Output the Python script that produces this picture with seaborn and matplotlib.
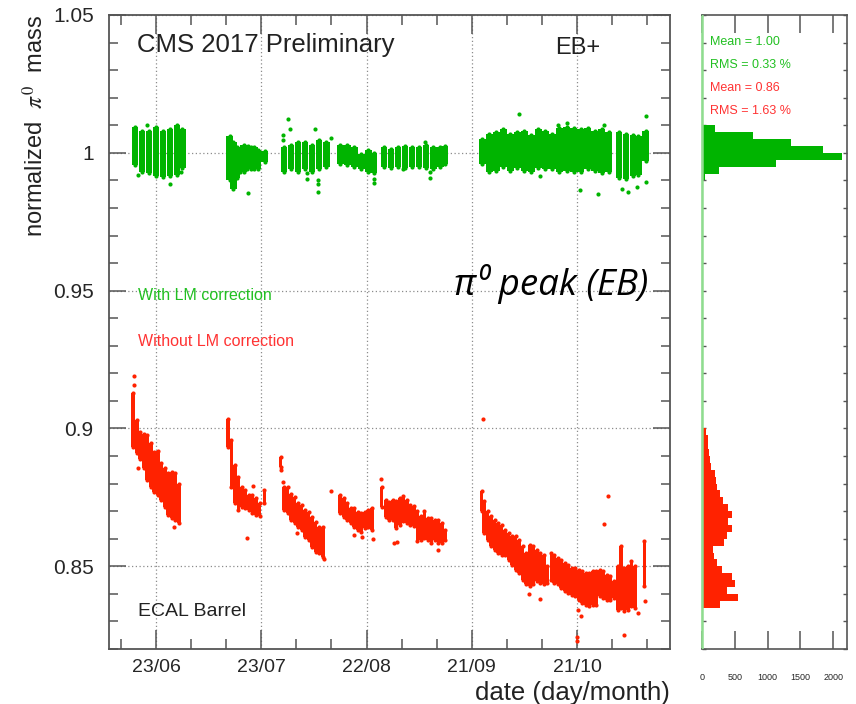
import datetime as dt
import numpy as np
import pandas as pd
import matplotlib
matplotlib.use("Agg")
import matplotlib.pyplot as plt
from matplotlib.ticker import MultipleLocator, FixedLocator, FuncFormatter, NullFormatter
import seaborn as sns

# ------------------------------------------------------------------
# pi0 peak position vs time, ECAL barrel (EB+), 2017.
# x values are day-of-year 2017; each reading is the spread (lo..hi)
# of the normalized peak position around that day.
# ------------------------------------------------------------------

# with laser-monitoring (LM) correction
green_day = [168, 170, 172, 174, 176, 178, 180, 181.5,
             195, 196, 197, 198, 199, 200, 201, 202, 203, 205,
             210.5, 212.5, 214.5, 216.5, 218.5, 220.5, 222.5,
             226.5, 228.5, 230.5, 232.5, 234.5, 236,
             239, 241, 243, 245, 247, 249, 251, 253, 255, 256.3,
             267, 269, 271, 273, 275, 277, 279, 281, 283, 285,
             287, 289, 291, 293, 295, 297, 299, 301, 303, 306, 308, 310, 311.5, 313.6]
green_hi = [1.0095, 1.0080, 1.0078, 1.0092, 1.0080, 1.0085, 1.0100, 1.0088,
            1.0060, 1.0040, 1.0020, 1.0010, 1.0030, 1.0010, 1.0020, 1.0020, 1.0010, 1.0005,
            1.0020, 1.0030, 1.0040, 1.0040, 1.0030, 1.0045, 1.0040,
            1.0030, 1.0030, 1.0020, 0.9995, 1.0010, 1.0000,
            1.0020, 1.0015, 1.0020, 1.0025, 1.0020, 1.0020, 1.0030, 1.0020, 1.0020, 1.0025,
            1.0050, 1.0070, 1.0075, 1.0085, 1.0070, 1.0075, 1.0080, 1.0065, 1.0085, 1.0080,
            1.0070, 1.0090, 1.0095, 1.0090, 1.0085, 1.0090, 1.0080, 1.0085, 1.0075, 1.0075,
            1.0070, 1.0065, 1.0060, 1.0080]
green_lo = [0.9955, 0.9930, 0.9925, 0.9915, 0.9913, 0.9915, 0.9920, 0.9945,
            0.9900, 0.9870, 0.9910, 0.9930, 0.9930, 0.9940, 0.9940, 0.9940, 0.9940, 0.9965,
            0.9930, 0.9940, 0.9930, 0.9940, 0.9930, 0.9940, 0.9950,
            0.9960, 0.9955, 0.9950, 0.9940, 0.9930, 0.9925,
            0.9950, 0.9945, 0.9950, 0.9945, 0.9950, 0.9950, 0.9945, 0.9940, 0.9950, 0.9960,
            0.9960, 0.9930, 0.9935, 0.9950, 0.9935, 0.9945, 0.9935, 0.9930, 0.9945, 0.9940,
            0.9940, 0.9930, 0.9935, 0.9930, 0.9930, 0.9940, 0.9935, 0.9925, 0.9930, 0.9910,
            0.9905, 0.9915, 0.9920, 0.9970]
green_out_day = [171.4, 168.9, 178.0, 181.2, 200.2, 200.2, 211.6, 212.3, 210.3, 210.3,
                 219.2, 223.9, 217.0, 217.0, 220.1, 220.1, 220.1, 236.0, 236.0, 250.7,
                 252.0, 252.0, 244.5, 277.4, 283.4, 288.5, 291.0, 301.8, 294.8, 300.0,
                 306.9, 308.6, 311.2, 313.6, 313.6]
green_out_val = [1.0100, 0.9919, 0.9888, 0.9931, 0.9855, 1.0025, 1.0122, 1.0088, 1.0064, 1.0046,
                 1.0086, 1.0052, 0.9925, 0.9905, 0.9900, 0.9888, 0.9859, 0.9905, 0.9892, 1.0040,
                 0.9930, 0.9910, 0.9943, 1.0141, 0.9917, 1.0100, 1.0107, 1.0100, 0.9866, 0.9851,
                 0.9870, 0.9859, 0.9877, 1.0133, 0.9895]

# without LM correction
red_day = [167.5, 168.5, 169.5, 170.5, 171.5, 172.5, 173.5, 174.5, 175.5, 176.5, 177.5, 178.5, 179.5, 180.5,
           194.5, 195.5, 196.5, 197.5, 198.5, 199.5, 200.5, 201.5, 202.5, 203.5, 204.9,
           209.5, 210.5, 211.5, 212.5, 213.5, 214.5, 215.5, 216.5, 217.5, 218.5, 219.5, 220.5, 221.5,
           226.5, 227.5, 228.5, 229.5, 230.5, 231.5, 232.5, 233.5, 234.5, 235.5,
           238.3, 239.5, 240.5, 241.5, 242.5, 243.5, 244.5, 245.5, 246.5, 247.5, 248.5, 249.5,
           250.5, 251.5, 252.5, 253.5, 254.5, 255.5, 256.5,
           266.8, 267.5, 268.5, 269.5, 270.5, 271.5, 272.5, 273.5, 274.5, 275.5, 276.5, 277.5,
           278.5, 279.5, 280.5, 281.5, 282.5, 283.5, 284.5, 285.5,
           286.7, 287.5, 288.5, 289.5, 290.5, 291.5, 292.5, 293.5, 294.5, 295.5, 296.5, 297.5,
           298.5, 299.5, 300.5, 301.5, 302.5, 303.5, 304.5,
           305.7, 306.5, 307.5, 308.5, 309.5, 310.5, 313.2]
red_hi = [0.9130, 0.9030, 0.8988, 0.8980, 0.8976, 0.8946, 0.8915, 0.8920, 0.8873, 0.8855, 0.8837, 0.8843, 0.8837, 0.8800,
          0.9036, 0.8958, 0.8867, 0.8825, 0.8789, 0.8777, 0.8758, 0.8758, 0.8746, 0.8728, 0.8777,
          0.8897, 0.8789, 0.8789, 0.8764, 0.8752, 0.8728, 0.8722, 0.8704, 0.8698, 0.8680, 0.8662, 0.8644, 0.8644,
          0.8758, 0.8746, 0.8728, 0.8710, 0.8710, 0.8698, 0.8692, 0.8698, 0.8704, 0.8710,
          0.8789, 0.8740, 0.8734, 0.8740, 0.8736, 0.8748, 0.8754, 0.8742, 0.8723, 0.8717, 0.8699, 0.8681,
          0.8699, 0.8675, 0.8675, 0.8669, 0.8669, 0.8657, 0.8633,
          0.8772, 0.8736, 0.8699, 0.8681, 0.8669, 0.8657, 0.8651, 0.8633, 0.8621, 0.8609, 0.8609, 0.8597,
          0.8572, 0.8548, 0.8578, 0.8572, 0.8560, 0.8548, 0.8542, 0.8500,
          0.8548, 0.8542, 0.8530, 0.8524, 0.8512, 0.8506, 0.8494, 0.8494, 0.8488, 0.8482, 0.8476, 0.8476,
          0.8482, 0.8482, 0.8488, 0.8482, 0.8470, 0.8464, 0.8446,
          0.8500, 0.8572, 0.8494, 0.8500, 0.8518, 0.8500, 0.8591]
red_lo = [0.8934, 0.8910, 0.8891, 0.8855, 0.8813, 0.8789, 0.8770, 0.8758, 0.8740, 0.8716, 0.8686, 0.8674, 0.8668, 0.8656,
          0.8934, 0.8789, 0.8728, 0.8704, 0.8716, 0.8710, 0.8704, 0.8692, 0.8686, 0.8682, 0.8728,
          0.8861, 0.8704, 0.8692, 0.8668, 0.8656, 0.8644, 0.8632, 0.8607, 0.8595, 0.8571, 0.8553, 0.8547, 0.8535,
          0.8692, 0.8680, 0.8668, 0.8656, 0.8644, 0.8632, 0.8626, 0.8638, 0.8644, 0.8632,
          0.8716, 0.8680, 0.8668, 0.8668, 0.8639, 0.8651, 0.8663, 0.8657, 0.8651, 0.8645, 0.8591, 0.8597,
          0.8603, 0.8597, 0.8585, 0.8597, 0.8585, 0.8585, 0.8597,
          0.8699, 0.8621, 0.8597, 0.8572, 0.8560, 0.8548, 0.8542, 0.8542, 0.8524, 0.8506, 0.8488, 0.8476,
          0.8452, 0.8434, 0.8428, 0.8434, 0.8446, 0.8440, 0.8434, 0.8440,
          0.8452, 0.8440, 0.8434, 0.8422, 0.8410, 0.8403, 0.8397, 0.8391, 0.8379, 0.8367, 0.8361, 0.8355,
          0.8361, 0.8361, 0.8391, 0.8385, 0.8379, 0.8379, 0.8385,
          0.8343, 0.8349, 0.8337, 0.8343, 0.8355, 0.8349, 0.8428]
red_out_day = [167.6, 167.6, 168.8, 179.2, 201.6, 199.9, 209.7, 210.1, 214.3, 221.9,
               223.8, 230.3, 232.7, 235.8, 238.2, 241.8, 242.6, 254.5, 267.2, 280.4,
               283.5, 294.2, 295.1, 294.0, 294.0, 301.8, 302.8, 307.3, 311.3, 313.4]
red_out_val = [0.9192, 0.9156, 0.8855, 0.8644, 0.8791, 0.8601, 0.8849, 0.8807, 0.8622, 0.8525,
               0.8773, 0.8614, 0.8607, 0.8598, 0.8815, 0.8586, 0.8587, 0.8560, 0.9033, 0.8401,
               0.8382, 0.8340, 0.8319, 0.8245, 0.8229, 0.8655, 0.8754, 0.8249, 0.8329, 0.8373]

# axis date labels (day/month, 2017)
date_labels = ["23/06", "23/07", "22/08", "21/09", "21/10"]

# projected histograms: entries per 0.0025-wide bin of the normalized mass
hist_bin_width = 0.0025
green_hist_start = 0.990
green_hist_counts = [46, 259, 1128, 2134, 1844, 1360, 780, 200]
red_hist_start = 0.835
red_hist_counts = [280, 550, 376, 503, 452, 300, 224, 188, 173, 340, 376, 452, 401,
                   462, 390, 325, 274, 229, 208, 198, 140, 119, 109, 97, 87, 60]
hist_ticks = [0, 500, 1000, 1500, 2000]

stats_green = ["Mean = 1.00", "RMS = 0.33 %"]
stats_red = ["Mean = 0.86", "RMS = 1.63 %"]

# ------------------------------------------------------------------
sns.set_style("ticks")
plt.rcParams["font.family"] = ["Liberation Sans", "DejaVu Sans"]
plt.rcParams["mathtext.fontset"] = "stix"

GREEN = "#00b400"
RED = "#ff2200"
GREEN_TXT = "#22c022"
RED_TXT = "#ff3333"
FRAME = "#555555"

W, H = 856, 704
fig = plt.figure(figsize=(W / 100, H / 100), dpi=100)
ax = fig.add_axes([109 / W, 55 / H, 561 / W, 634 / H])
axh = fig.add_axes([702 / W, 55 / H, 145 / W, 634 / H])

YMIN, YMAX = 0.82, 1.05

# ---------------- main time-series panel ----------------
def draw_series(day, lo, hi, color, width):
    day = np.asarray(day)
    lo = np.asarray(lo)
    hi = np.asarray(hi)
    ax.bar(day, hi - lo, bottom=lo, width=width, color=color, linewidth=0, zorder=3)
    ax.scatter(day, hi, s=9, color=color, linewidths=0, zorder=3)
    ax.scatter(day, lo, s=9, color=color, linewidths=0, zorder=3)

draw_series(green_day, green_lo, green_hi, GREEN, 1.9)
draw_series(red_day, red_lo, red_hi, RED, 1.05)
sns.scatterplot(x=green_out_day, y=green_out_val, ax=ax, color=GREEN, s=9,
                linewidth=0, zorder=3, legend=False)
sns.scatterplot(x=red_out_day, y=red_out_val, ax=ax, color=RED, s=9,
                linewidth=0, zorder=3, legend=False)

date_days = [dt.datetime.strptime(lab + "/2017", "%d/%m/%Y").timetuple().tm_yday
             for lab in date_labels]
ax.set_xlim(160.6, 320.5)
ax.set_ylim(YMIN, YMAX)
ax.xaxis.set_major_locator(FixedLocator(date_days))
ax.set_xticklabels(date_labels)
minor_days = [d for d in range(date_days[0] - 10, 321, 10) if d not in date_days]
ax.xaxis.set_minor_locator(FixedLocator(minor_days))
ax.yaxis.set_major_locator(MultipleLocator(0.05))
ax.yaxis.set_minor_locator(MultipleLocator(0.01))
ax.yaxis.set_major_formatter(FuncFormatter(lambda v, p: f"{v:g}"))

ax.grid(True, which="major", linestyle=(0, (1, 2)), color="#8c8c8c", linewidth=0.9, zorder=1)
ax.set_axisbelow(True)
ax.tick_params(which="both", direction="in", top=True, right=True, color=FRAME, width=1.1)
ax.tick_params(axis="x", which="major", length=13.5, labelsize=14, pad=7)
ax.tick_params(axis="x", which="minor", length=7)
ax.tick_params(axis="y", which="major", length=12, labelsize=15, pad=11)
ax.tick_params(axis="y", which="minor", length=6.5)
for s in ax.spines.values():
    s.set_color(FRAME)
    s.set_linewidth(1.3)

def ax_frac(px, py, a_left, a_width):
    return (px - a_left) / a_width, (649 - py) / 634

x, y = ax_frac(137, 45, 109, 561)
ax.text(x, y, "CMS 2017 Preliminary", transform=ax.transAxes, fontsize=18.5,
        ha="left", va="center", color="#222222")
x, y = ax_frac(578, 48, 109, 561)
ax.text(x, y, "EB+", transform=ax.transAxes, fontsize=17, ha="center", va="center",
        color="#222222")
x, y = ax_frac(138, 296, 109, 561)
ax.text(x, y, "With LM correction", transform=ax.transAxes, fontsize=11.5,
        ha="left", va="center", color=GREEN_TXT)
x, y = ax_frac(138, 342, 109, 561)
ax.text(x, y, "Without LM correction", transform=ax.transAxes, fontsize=11.5,
        ha="left", va="center", color=RED_TXT)
x, y = ax_frac(138, 612, 109, 561)
ax.text(x, y, "ECAL Barrel", transform=ax.transAxes, fontsize=14,
        ha="left", va="center", color="#222222")

fig.text(35 / W, 1 - 15 / H, r"normalized  $\pi^{0}$  mass", rotation=90,
         ha="center", va="top", fontsize=17, color="#222222")
fig.text(670 / W, 1 - 693 / H, "date (day/month)", ha="right", va="center",
         fontsize=18.5, color="#222222")
fig.text(454 / W, 1 - 284 / H, "π⁰ peak (EB)", ha="left", va="center",
         fontsize=26.5, style="italic", family=["Open Sans", "DejaVu Sans"], color="black")

# ---------------- projected histogram panel ----------------
def draw_hist(start, counts, color):
    n = len(counts)
    edges = [start + hist_bin_width * i for i in range(n + 1)]
    table = pd.DataFrame({"mass": [e + hist_bin_width / 2 for e in edges[:-1]],
                          "entries": counts})
    sns.histplot(data=table, y="mass", weights="entries", bins=edges, ax=axh,
                 color=color, alpha=1.0, linewidth=0, element="bars", fill=True, zorder=3)

draw_hist(green_hist_start, green_hist_counts, GREEN)
draw_hist(red_hist_start, red_hist_counts, RED)
axh.set_xlabel("")
axh.set_ylabel("")
axh.set_xlim(0, 2210)
axh.set_ylim(YMIN, YMAX)
axh.axvline(0, color="#8fdc8f", linewidth=1.8, zorder=5)
axh.xaxis.set_major_locator(FixedLocator(hist_ticks))
axh.set_xticklabels([str(t) for t in hist_ticks])
axh.yaxis.set_major_locator(MultipleLocator(0.01))
axh.yaxis.set_major_formatter(NullFormatter())
axh.tick_params(axis="x", which="major", direction="in", top=True, length=13,
                labelsize=6.5, pad=17, color=FRAME, width=1.1)
axh.tick_params(axis="y", which="major", direction="in", left=True, right=True,
                length=3, color=FRAME, width=1.0)
for name, s in axh.spines.items():
    s.set_color(FRAME)
    s.set_linewidth(1.2)
axh.spines["left"].set_color("#8fdc8f")

for i, line in enumerate(stats_green + stats_red):
    color = GREEN_TXT if i < len(stats_green) else RED_TXT
    py = [42, 65, 88, 111][i]
    axh.text((710 - 702) / 145, (649 - py) / 634, line, transform=axh.transAxes,
             fontsize=9, ha="left", va="center", color=color)

fig.savefig("out.png", dpi=100)
